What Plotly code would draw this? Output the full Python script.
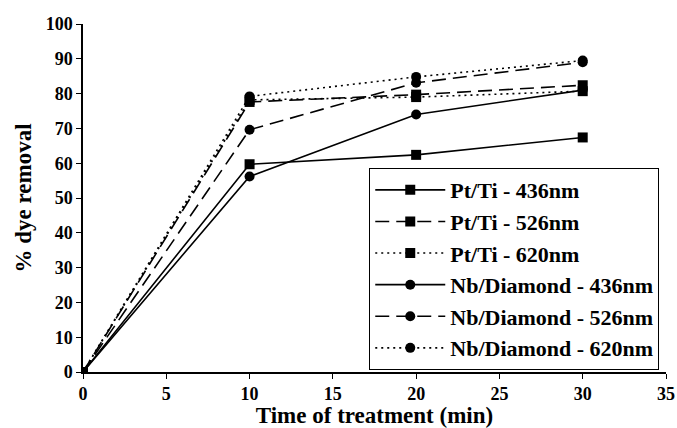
import plotly.graph_objects as go

time_min = [0, 10, 20, 30]
pt_ti_436 = [0, 59.7, 62.4, 67.4]
pt_ti_526 = [0, 77.6, 79.7, 82.4]
pt_ti_620 = [0, 78.2, 79.0, 80.7]
nb_d_436 = [0, 56.2, 74.0, 81.0]
nb_d_526 = [0, 69.6, 83.1, 89.0]
nb_d_620 = [0, 79.2, 84.8, 89.5]

series = [
    ("Pt/Ti - 436nm", pt_ti_436, "solid", "square"),
    ("Pt/Ti - 526nm", pt_ti_526, "14px,7px", "square"),
    ("Pt/Ti - 620nm", pt_ti_620, "2px,4px", "square"),
    ("Nb/Diamond - 436nm", nb_d_436, "solid", "circle"),
    ("Nb/Diamond - 526nm", nb_d_526, "14px,7px", "circle"),
    ("Nb/Diamond - 620nm", nb_d_620, "2px,4px", "circle"),
]

fig = go.Figure()
for i, (name, vals, dash, sym) in enumerate(series):
    fig.add_trace(go.Scatter(
        x=time_min, y=vals, name=name, mode="lines+markers",
        line=dict(color="black", width=1.6, dash=dash),
        marker=dict(symbol=sym, size=10, color="black"),
        legendgroup=f"g{i}",
    ))

font_family = "Liberation Serif, Times New Roman, serif"
fig.update_layout(
    width=677, height=428,
    margin=dict(l=83, r=11, t=24, b=56),
    paper_bgcolor="white", plot_bgcolor="white",
    font=dict(family=font_family, color="black"),
    showlegend=True,
    legend=dict(
        x=0.491, y=0.586, xanchor="left", yanchor="top",
        bgcolor="white", bordercolor="black", borderwidth=1,
        font=dict(family=font_family, size=22, color="black", weight="bold"),
        tracegroupgap=0, itemwidth=70,
    ),
    xaxis=dict(
        range=[0, 35], tickvals=[0, 5, 10, 15, 20, 25, 30, 35],
        showline=True, linecolor="black", linewidth=1.5, mirror=False,
        ticks="outside", ticklen=5, tickcolor="black",
        showgrid=False, zeroline=False, automargin=False,
        tickfont=dict(family=font_family, size=18, weight="bold"),
        title=dict(text="Time of treatment (min)", standoff=6,
                   font=dict(family=font_family, size=23, weight="bold")),
    ),
    yaxis=dict(
        range=[0, 100], tickvals=list(range(0, 101, 10)),
        showline=True, linecolor="black", linewidth=1.5,
        ticks="outside", ticklen=5, tickcolor="black",
        showgrid=False, zeroline=False, automargin=False,
        tickfont=dict(family=font_family, size=18, weight="bold"),
        title=dict(text="% dye removal", standoff=8,
                   font=dict(family=font_family, size=23, weight="bold")),
    ),
)

fig.write_html("out.html")
